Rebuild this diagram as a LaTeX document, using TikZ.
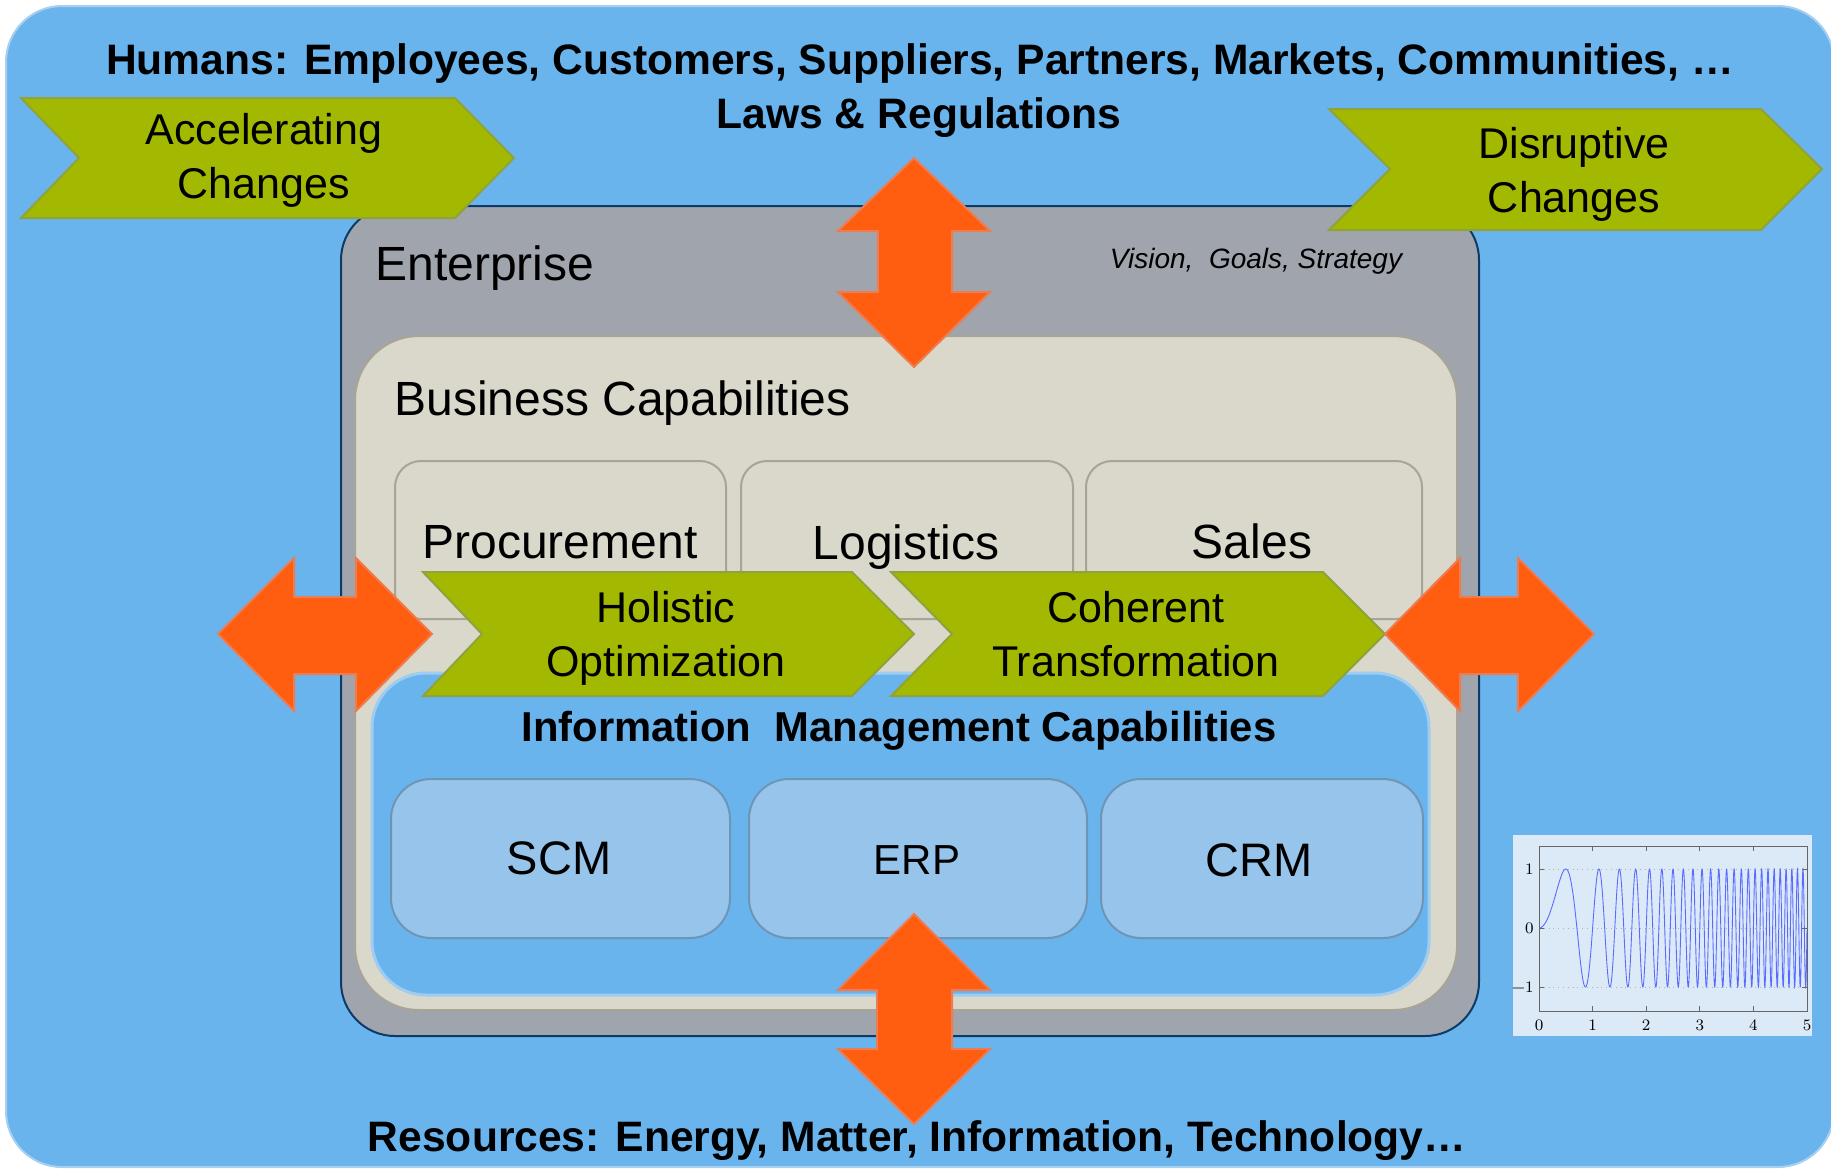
\documentclass[tikz,border=0pt]{standalone}
\usepackage{fontspec}
\setmainfont{Liberation Sans}
\newfontfamily\lmfont{Latin Modern Roman}
\definecolor{skyb}{HTML}{6AB4EE}
\definecolor{skybd}{HTML}{A6CFF0}
\definecolor{entg}{HTML}{A0A4AC}
\definecolor{navy}{HTML}{0D3B66}
\definecolor{sand}{HTML}{DAD8CB}
\definecolor{sandd}{HTML}{A8A496}
\definecolor{imbd}{HTML}{9FCCF1}
\definecolor{appb}{HTML}{97C4EA}
\definecolor{appbd}{HTML}{6F95B6}
\definecolor{olive}{HTML}{A3B800}
\definecolor{olived}{HTML}{8FA23C}
\definecolor{orng}{HTML}{FF5D0F}
\definecolor{orngd}{HTML}{EE7C52}
\definecolor{insetbg}{HTML}{DCEAF8}
\definecolor{curveb}{HTML}{5B6BFF}
\tikzset{
  chev/.style={fill=olive, draw=olived, line width=1pt, line join=miter},
  dblarrow/.style={fill=orng, draw=orngd, line width=1pt, line join=miter},
  capbox/.style={fill=sand, draw=sandd, line width=1pt, rounded corners=13pt},
  appbox/.style={fill=appb, draw=appbd, line width=1pt, rounded corners=20pt},
  chevtext/.style={font=\fontsize{21.5}{27}\selectfont, align=center, inner sep=0pt},
  captext/.style={font=\fontsize{24}{28}\selectfont, inner sep=0pt},
  bigbold/.style={font=\bfseries\fontsize{21.3}{25}\selectfont, inner sep=0pt},
  ticklab/.style={font=\lmfont\fontsize{8}{9}\selectfont, inner sep=0pt},
}
\begin{document}
\begin{tikzpicture}[x=0.5pt, y=-0.5pt]
\useasboundingbox (0,0) rectangle (1831,1169);
% outer environment
\draw[fill=skyb, draw=skybd, line width=1pt, rounded corners=28pt] (6,6) rectangle (1834,1167);
% enterprise
\draw[fill=entg, draw=navy, line width=1pt, rounded corners=27pt] (341,206) rectangle (1479,1036);
% business capabilities
\draw[fill=sand, draw=sandd, line width=1pt, rounded corners=32pt] (355,336) rectangle (1457,1010);
\draw[capbox] (395,461) rectangle (726,619);
\draw[capbox] (741,461) rectangle (1073,619);
\draw[capbox] (1086,461) rectangle (1422,619);
% information management
\draw[fill=skyb, draw=imbd, line width=1.5pt, rounded corners=27pt] (372,673) rectangle (1429,995);
\draw[appbox] (391,779) rectangle (730,938);
\draw[appbox] (749,779) rectangle (1087,938);
\draw[appbox] (1101,779) rectangle (1423,938);
% chevrons
\draw[chev] (21,98) -- (455,98) -- (514,158) -- (455,218) -- (21,218) -- (79,158) -- cycle;
\draw[chev] (1329,109) -- (1761,109) -- (1822,169) -- (1761,230) -- (1329,230) -- (1390,169) -- cycle;
\draw[chev] (423,572) -- (852,572) -- (914,634) -- (852,696) -- (423,696) -- (482,634) -- cycle;
\draw[chev] (891,572) -- (1323,572) -- (1385,634) -- (1323,696) -- (891,696) -- (952,634) -- cycle;
% orange double arrows
\draw[dblarrow] (914,158) -- (990,231) -- (952,231) -- (952,292) -- (990,292) -- (914,367) -- (838,292) -- (878,292) -- (878,231) -- (838,231) -- cycle;
\draw[dblarrow] (914,914) -- (990,990) -- (952,990) -- (952,1049) -- (990,1049) -- (914,1124) -- (838,1049) -- (877,1049) -- (877,990) -- (838,990) -- cycle;
\draw[dblarrow] (218,634) -- (294,558) -- (294,597) -- (356,597) -- (356,558) -- (432,634) -- (356,711) -- (356,674) -- (294,674) -- (294,711) -- cycle;
\draw[dblarrow] (1385,634) -- (1460,558) -- (1460,597) -- (1518,597) -- (1518,558) -- (1594,634) -- (1518,711) -- (1518,674) -- (1460,674) -- (1460,711) -- cycle;
% texts
\node[bigbold] (humans) at (920,63) {Humans: Employees, Customers, Suppliers, Partners, Markets, Communities, …};
\node[bigbold] (laws) at (919,118) {Laws \& Regulations};
\node[bigbold] (resources) at (917,1141) {Resources: Energy, Matter, Information, Technology…};
\node[chevtext] (accel) at (264,160) {Accelerating\\Changes};
\node[chevtext] (disrupt) at (1574,174) {Disruptive\\Changes};
\node[chevtext] (holistic) at (666,638) {Holistic\\Optimization};
\node[chevtext] (coherent) at (1136,634) {Coherent\\Transformation};
\node[captext, anchor=west] (enterprise) at (375,268) {Enterprise};
\node[font=\itshape\fontsize{14}{16}\selectfont, inner sep=0pt] (vision) at (1256,261) {Vision, \ Goals, Strategy};
\node[captext, anchor=west] (bcap) at (394,403) {Business Capabilities};
\node[captext] (proc) at (560,542) {Procurement};
\node[captext] (logi) at (906,547) {Logistics};
\node[captext] (sales) at (1252,541) {Sales};
\node[font=\bfseries\fontsize{20.9}{24}\selectfont, inner sep=0pt] (imcap) at (899,731) {Information \ Management Capabilities};
\node[font=\fontsize{23.5}{28}\selectfont, inner sep=0pt] (scm) at (559,858) {SCM};
\node[font=\fontsize{21}{25}\selectfont, inner sep=0pt] (erp) at (917,860) {ERP};
\node[font=\fontsize{23.5}{28}\selectfont, inner sep=0pt] (crm) at (1259,860) {CRM};
% inset chart
\fill[insetbg] (1513,835) rectangle (1812,1036);
\foreach \yy in {869,928,987} \draw[gray!60, dotted, line width=0.4pt] (1539,\yy) -- (1807,\yy);
\begin{scope}
\clip (1539,846) rectangle (1807,1011);
\draw[curveb, line width=0.45pt] plot[domain=0:5, samples=2200] ({1539+53.6*\x}, {928-59*sin(360*\x*\x)});
\end{scope}
\draw[gray!80!black, line width=0.4pt] (1539,846) rectangle (1807,1011);
\foreach \k in {0,...,5} {
  \draw[gray!80!black, line width=0.4pt] ({1539+53.6*\k},1011) -- ({1539+53.6*\k},1006);
  \draw[gray!80!black, line width=0.4pt] ({1539+53.6*\k},846) -- ({1539+53.6*\k},851);
  \node[ticklab] (xl\k) at ({1539+53.6*\k},1025) {\k};
}
\foreach \yy in {869,928,987} {
  \draw[gray!80!black, line width=0.4pt] (1539,\yy) -- (1544,\yy);
  \draw[gray!80!black, line width=0.4pt] (1807,\yy) -- (1802,\yy);
}
\node[ticklab, anchor=east] (yl1) at (1534,869) {1};
\node[ticklab, anchor=east] (yl0) at (1534,928) {0};
\node[ticklab, anchor=east] (ylm) at (1534,987) {−1};
\end{tikzpicture}
\end{document}
